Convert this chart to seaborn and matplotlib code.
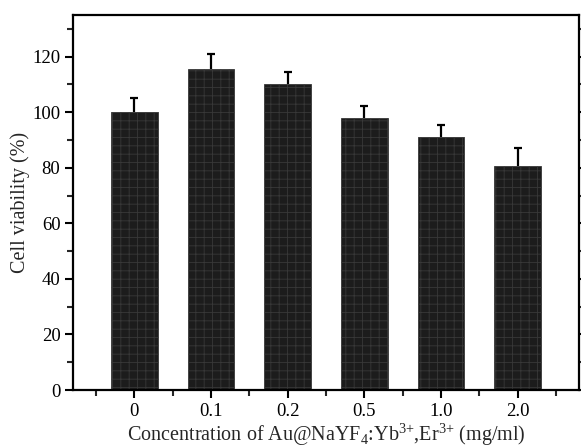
import numpy as np
import pandas as pd
import matplotlib
matplotlib.use("Agg")
import matplotlib.pyplot as plt
from matplotlib.ticker import MultipleLocator
import seaborn as sns

sns.set_theme(style="ticks")
plt.rcParams['font.family'] = ['Liberation Serif', 'DejaVu Serif']
plt.rcParams['mathtext.fontset'] = 'custom'
plt.rcParams['mathtext.rm'] = 'Liberation Serif'
plt.rcParams['hatch.linewidth'] = 0.6

# data
concentrations = ["0", "0.1", "0.2", "0.5", "1.0", "2.0"]
viability = [100.2, 115.4, 110.2, 97.8, 91.1, 80.6]
viability_err = [5.0, 5.6, 4.4, 4.6, 4.3, 6.4]

df = pd.DataFrame({"conc": concentrations, "viability": viability})

fig = plt.figure(figsize=(5.81, 4.47), dpi=100)
ax = fig.add_axes([0.1256, 0.1275, 0.8710, 0.8390])

sns.barplot(data=df, x="conc", y="viability", color="#1c1c1c", width=0.61,
            saturation=1, ax=ax)
# grid texture like the original fill pattern
for p in ax.patches:
    p.set_hatch("++")
    p.set_edgecolor("#383838")
    p.set_linewidth(0.6)

# upward error bars only
eb = ax.errorbar(np.arange(len(concentrations)), viability,
                 yerr=[np.zeros(len(viability_err)), viability_err],
                 fmt="none", ecolor="black", elinewidth=1.6, capsize=3, capthick=1.6)
eb[1][0].set_visible(False)

ax.set_xlim(-0.8, 5.8)
ax.set_ylim(0, 135)
ax.yaxis.set_major_locator(MultipleLocator(20))
ax.yaxis.set_minor_locator(MultipleLocator(10))
ax.xaxis.set_minor_locator(MultipleLocator(1, offset=0.5))

for s in ax.spines.values():
    s.set_linewidth(1.6)
    s.set_color("black")

ax.tick_params(axis="both", which="major", direction="out", length=6, width=1.5,
               labelsize=13.5, pad=3, colors="black")
ax.tick_params(axis="both", which="minor", direction="out", length=4, width=1.5)
ax.tick_params(axis="y", which="both", right=True)

ax.set_xlabel(r"Concentration of Au@NaYF$_4$:Yb$^{3{+}}$,Er$^{3{+}}$ (mg/ml)",
              fontsize=14.5, labelpad=1)
ax.set_ylabel("Cell viability (%)", fontsize=14.5, labelpad=2)

plt.savefig("out.png", dpi=100)
